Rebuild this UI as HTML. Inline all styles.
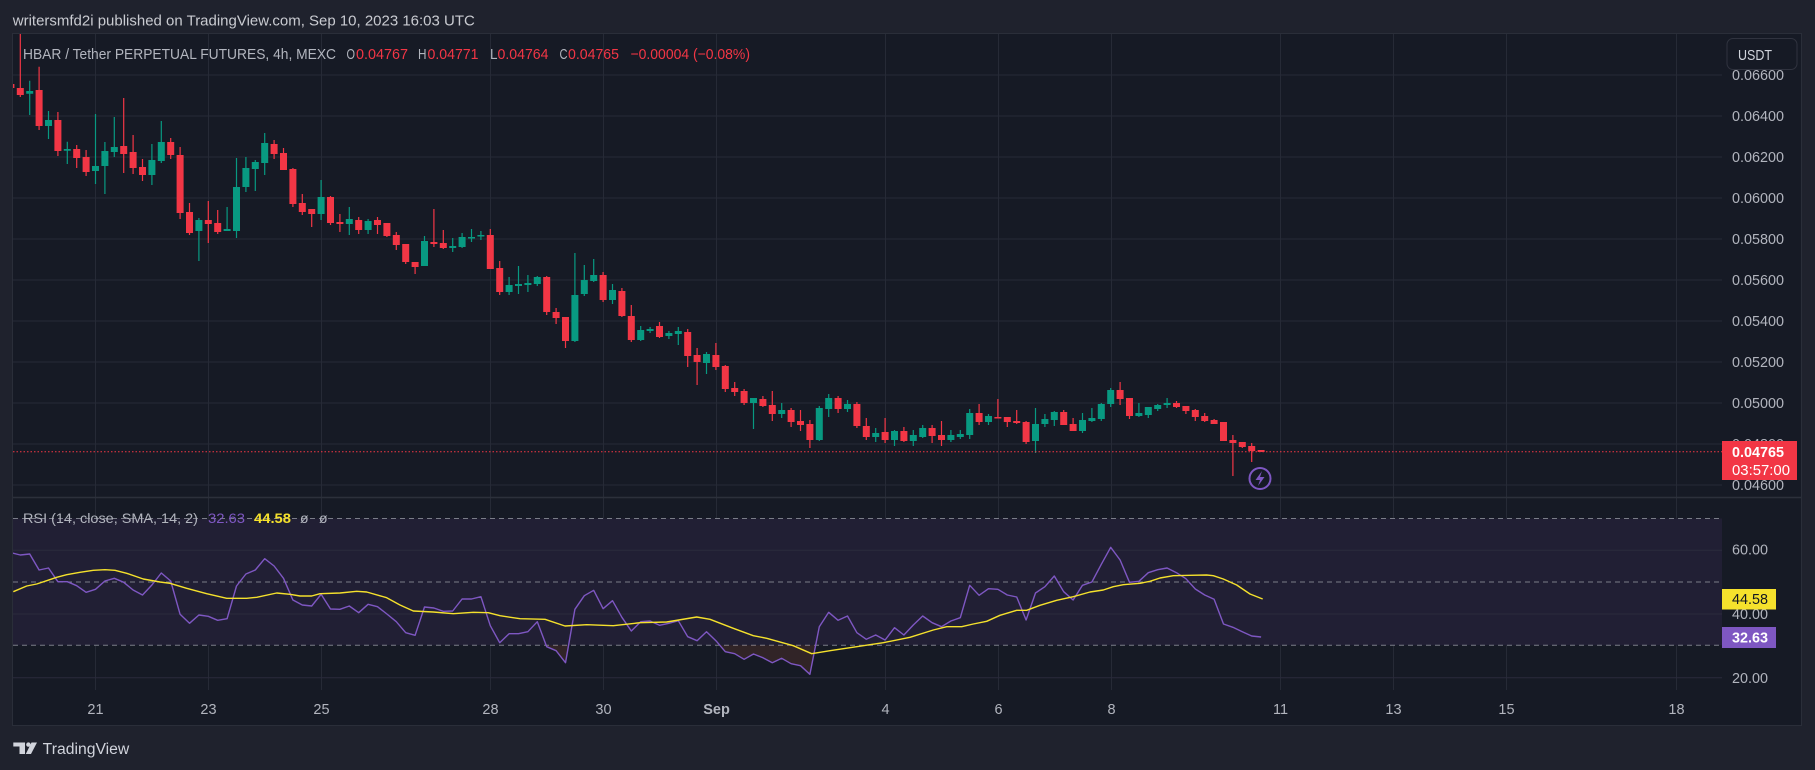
<!DOCTYPE html>
<html><head><meta charset="utf-8">
<style>
html,body{margin:0;padding:0;background:#1f222d;}
svg{display:block;font-family:"Liberation Sans",sans-serif;}
</style></head>
<body>
<svg width="1815" height="770" viewBox="0 0 1815 770" xmlns="http://www.w3.org/2000/svg">
<defs>
<clipPath id="cp"><rect x="13" y="34" width="1709" height="463"/></clipPath>
<clipPath id="cr"><rect x="13" y="498" width="1709" height="192"/></clipPath>
</defs>
<rect width="1815" height="770" fill="#1f222d"/>
<rect x="12.5" y="33.5" width="1789" height="692" fill="#161a25" stroke="#2a2e39" stroke-width="1"/>

<!-- title -->
<text x="12.8" y="25.5" font-size="15" fill="#c9cbd1" textLength="462" lengthAdjust="spacingAndGlyphs">writersmfd2i published on TradingView.com, Sep 10, 2023 16:03 UTC</text>

<!-- grid -->
<g stroke="#262a36" stroke-width="1">
<path d="M13 75H1722M13 116H1722M13 157H1722M13 198H1722M13 239H1722M13 280H1722M13 321H1722M13 362H1722M13 403H1722M13 444H1722M13 485H1722"/>
<path d="M95.5 34V690M208.5 34V690M321.5 34V690M490.5 34V690M603.5 34V690M716.5 34V690M885.5 34V690M998.5 34V690M1111.5 34V690M1280.5 34V690M1393.5 34V690M1506.5 34V690M1676.5 34V690"/>
</g>

<!-- RSI band -->
<rect x="13" y="518.5" width="1709" height="126.8" fill="#211f34"/>
<g stroke="#2a2b3c" stroke-width="1">
<path d="M13 550.3H1722M13 614H1722M13 677.7H1722"/>
</g>
<g stroke="#7a7d88" stroke-width="1" stroke-dasharray="5 4">
<path d="M13 518.5H1722M13 582H1722M13 645.3H1722"/>
</g>
<!-- pane separator -->
<path d="M13 497.5H1801" stroke="#2c303b" stroke-width="1.5"/>

<!-- candles -->
<g clip-path="url(#cp)">
<path fill="none" stroke="#f23645" stroke-width="1.2" d="M10.9 83V90M20.3 30V97M39.1 66.7V130M57.9 112V156M76.7 145V168M86.1 150V176M123.7 98V173M133.1 135V174M142.5 159V181M170.7 138V159M180.1 147V219M189.5 203V235M208.3 201V243M217.7 210V234M274.1 140V159M283.5 148V170M292.9 168V207M302.3 194V215M311.7 209V227M330.5 196V225M339.9 214V232M358.7 217V234M377.5 217V234M386.9 223V237M396.3 232V250M405.7 244V264M415.1 262V274M433.9 209V247M443.3 230V249M490.3 229V269M499.7 261V295M546.7 276V315M556.1 308V324M565.5 317V348M603.1 272V302M621.9 288V317M631.3 305V342M659.5 322V338M687.7 329V367M697.1 348V385M715.9 343V370M725.3 365V392M734.7 382V396M744.1 389V405M762.9 396V407M772.3 391V421M791.1 408V427M800.5 410V431M809.9 420V448M838.1 396V413M856.9 402V428M866.3 418V440M885.1 418V443M903.9 427V442M932.1 425V443M941.5 421V446M979.1 404V425M997.9 399V418M1007.3 417V427M1016.7 410V424M1026.1 421V444M1063.7 410V425M1073.1 418V431M1120.1 382V405M1129.5 398V419M1176.5 401V408M1185.9 406V414M1195.3 409V421M1204.7 413V422M1214.1 419V424M1223.5 422V441M1232.9 435V476M1242.3 442V448M1251.7 443V462M1261.1 450V452"/>
<path fill="#f23645" d="M7.4 84h7V88h-7zM16.8 88h7V95h-7zM35.6 90h7V126h-7zM54.4 120h7V151h-7zM73.2 149h7V158h-7zM82.6 157h7V172h-7zM120.2 146h7V154h-7zM129.6 152h7V168h-7zM139 167h7V175h-7zM167.2 142h7V155h-7zM176.6 155h7V213h-7zM186 212h7V233h-7zM204.8 220h7V224h-7zM214.2 223h7V232h-7zM270.6 144h7V154h-7zM280 153h7V170h-7zM289.4 169h7V204h-7zM298.8 203h7V212h-7zM308.2 209h7V214h-7zM327 197h7V223h-7zM336.4 222h7V224h-7zM355.2 220h7V230h-7zM374 220h7V225h-7zM383.4 223h7V236h-7zM392.8 235h7V245h-7zM402.2 244h7V262h-7zM411.6 262h7V267h-7zM430.4 242h7V244h-7zM439.8 243h7V248h-7zM486.8 235h7V269h-7zM496.2 268h7V292h-7zM543.2 277h7V312h-7zM552.6 312h7V318h-7zM562 317h7V341h-7zM599.6 275h7V300h-7zM618.4 291h7V316h-7zM627.8 316h7V340h-7zM656 326h7V337h-7zM684.2 332h7V356h-7zM693.6 355h7V362h-7zM712.4 355h7V367h-7zM721.8 366h7V389h-7zM731.2 388h7V392h-7zM740.6 391h7V403h-7zM759.4 399h7V406h-7zM768.8 405h7V414h-7zM787.6 410h7V422h-7zM797 421h7V425h-7zM806.4 424h7V440h-7zM834.6 398h7V409h-7zM853.4 404h7V426h-7zM862.8 426h7V437h-7zM881.6 432h7V440h-7zM900.4 431h7V441h-7zM928.6 428h7V436h-7zM938 435h7V440h-7zM975.6 413h7V422h-7zM994.4 417h7V418.5h-7zM1003.8 417h7V422h-7zM1013.2 421h7V423h-7zM1022.6 422h7V442h-7zM1060.2 412h7V425h-7zM1069.6 424h7V431h-7zM1116.6 390h7V399h-7zM1126 398h7V416h-7zM1173 403h7V407h-7zM1182.4 406h7V411h-7zM1191.8 410h7V417h-7zM1201.2 416h7V421h-7zM1210.6 420h7V424h-7zM1220 422h7V441h-7zM1229.4 440h7V443h-7zM1238.8 442h7V447h-7zM1248.2 446h7V451h-7zM1257.6 450h7V452h-7z"/>
<path fill="none" stroke="#089981" stroke-width="1.2" d="M29.7 80.7V115M48.5 111V139M67.3 141.7V164M95.5 114V184M104.9 142V194M114.3 117V157M151.9 144V185M161.3 121V163M198.9 218V261M227.1 207V230M236.5 158V238M245.9 157V192M255.3 160V191M264.7 133V175M321.1 180V220M349.3 207V235M368.1 219V234M424.5 236V266M452.7 238V252M462.1 233V248M471.5 229V242M480.9 231V240M509.1 277V295M518.5 266V294M527.9 275V292M537.3 276V286M574.9 253V342M584.3 265V296M593.7 259V282M612.5 284V304M640.7 326V341M650.1 327V333M668.9 331V339M678.3 327V345M706.5 352V374M753.5 398V429M781.7 403V418M819.3 406V441M828.7 394V417M847.5 400V412M875.7 428V442M894.5 430V446M913.3 430V446M922.7 425V438M950.9 430V442M960.3 430V439M969.7 409V439M988.5 414V425M1035.5 408V453M1044.9 414V427M1054.3 411V426M1082.5 413V433M1091.9 408V422M1101.3 403V421M1110.7 388V407M1138.9 403V417M1148.3 407V418M1157.7 404V411M1167.1 398V408"/>
<path fill="#089981" d="M26.2 91h7V93.7h-7zM45 120h7V126h-7zM63.8 149h7V150.7h-7zM92 166h7V171h-7zM101.4 151h7V166h-7zM110.8 147h7V152h-7zM148.4 160h7V175h-7zM157.8 142h7V161h-7zM195.4 220h7V231h-7zM223.6 229h7V231h-7zM233 187h7V231h-7zM242.4 168h7V187h-7zM251.8 162h7V169h-7zM261.2 143h7V163h-7zM317.6 197h7V214h-7zM345.8 219h7V224h-7zM364.6 221h7V230h-7zM421 241h7V266h-7zM449.2 246h7V248h-7zM458.6 237h7V247h-7zM468 237h7V238.5h-7zM477.4 235h7V236.5h-7zM505.6 285h7V292h-7zM515 284h7V286h-7zM524.4 283h7V285h-7zM533.8 277h7V284h-7zM571.4 295h7V341h-7zM580.8 280h7V294h-7zM590.2 275h7V281h-7zM609 290h7V300h-7zM637.2 330h7V340h-7zM646.6 329h7V331h-7zM665.4 333h7V336h-7zM674.8 331h7V334h-7zM703 354h7V363h-7zM750 398h7V403h-7zM778.2 410h7V414h-7zM815.8 408h7V440h-7zM825.2 398h7V409h-7zM844 404h7V409h-7zM872.2 433h7V437h-7zM891 431h7V440h-7zM909.8 435h7V441h-7zM919.2 428h7V437h-7zM947.4 435h7V440h-7zM956.8 434h7V437h-7zM966.2 413h7V435h-7zM985 416h7V422h-7zM1032 424h7V441h-7zM1041.4 419h7V424h-7zM1050.8 412h7V420h-7zM1079 420h7V431h-7zM1088.4 418h7V421h-7zM1097.8 404h7V419h-7zM1107.2 390h7V404h-7zM1135.4 413h7V416h-7zM1144.8 407h7V415h-7zM1154.2 405h7V409h-7zM1163.6 403h7V405h-7z"/>
</g>

<!-- current price line -->
<path d="M13 451.7H1722" stroke="#f23645" stroke-width="1" stroke-dasharray="1.5 2"/>

<!-- lightning icon -->
<circle cx="1260" cy="478.5" r="10.5" fill="#161a25" stroke="#7e57c2" stroke-width="2"/>
<path d="M1262 471L1255.5 480H1260L1258 486L1264.5 477H1260Z" fill="#7e57c2"/>

<!-- legend -->
<text y="59" font-size="15" fill="#b2b5be">
<tspan x="23" textLength="313" lengthAdjust="spacingAndGlyphs">HBAR / Tether PERPETUAL FUTURES, 4h, MEXC</tspan>
</text>
<text y="59" font-size="15" fill="#b2b5be">
<tspan x="346.5" textLength="8.5" lengthAdjust="spacingAndGlyphs">O</tspan>
<tspan x="418" textLength="8.5" lengthAdjust="spacingAndGlyphs">H</tspan>
<tspan x="490" textLength="7" lengthAdjust="spacingAndGlyphs">L</tspan>
<tspan x="559.5" textLength="8" lengthAdjust="spacingAndGlyphs">C</tspan>
</text>
<text y="59" font-size="15" fill="#f23645">
<tspan x="356" textLength="52" lengthAdjust="spacingAndGlyphs">0.04767</tspan>
<tspan x="427.5" textLength="51" lengthAdjust="spacingAndGlyphs">0.04771</tspan>
<tspan x="497.5" textLength="51" lengthAdjust="spacingAndGlyphs">0.04764</tspan>
<tspan x="568" textLength="51" lengthAdjust="spacingAndGlyphs">0.04765</tspan>
<tspan x="630.5" textLength="119.5" lengthAdjust="spacingAndGlyphs">−0.00004 (−0.08%)</tspan>
</text>

<!-- RSI under-30 fills -->
<g clip-path="url(#cr)">
<polygon points="546.2,645.3 546.7,646.7 556.1,650.7 565.5,662.7 568.6,645.3" fill="#d9603c" fill-opacity="0.14"/>
<polygon points="719.8,645.3 725.3,651.7 734.7,653.7 744.1,659.3 753.5,654 762.9,657.7 772.3,662.7 781.7,658.3 791.1,663.7 800.5,665.7 809.9,674.3 815.6,645.3" fill="#d9603c" fill-opacity="0.14"/>
<polyline fill="none" stroke="#7e57c2" stroke-width="1.4" stroke-linejoin="round" points="10.9,552.7 20.3,555 29.7,554 39.1,570 48.5,568 57.9,581.7 67.3,581.7 76.7,585.7 86.1,592.3 95.5,589.3 104.9,581 114.3,578.3 123.7,582.3 133.1,590 142.5,595 151.9,585 161.3,573 170.7,581 180.1,614.3 189.5,623.3 198.9,615 208.3,616.3 217.7,620.3 227.1,618.7 236.5,586 245.9,574 255.3,570 264.7,558.7 274.1,566 283.5,578.3 292.9,600 302.3,605 311.7,606 321.1,594.3 330.5,609 339.9,609.3 349.3,606 358.7,612.7 368.1,604.3 377.5,606.7 386.9,614 396.3,621.7 405.7,632.7 415.1,635.3 424.5,607 433.9,608 443.3,611.3 452.7,611 462.1,599 471.5,599 480.9,596.7 490.3,625.7 499.7,642.7 509.1,633.7 518.5,633.7 527.9,631.7 537.3,621.7 546.7,646.7 556.1,650.7 565.5,662.7 574.9,609.3 584.3,595.7 593.7,590.3 603.1,608.7 612.5,600.7 621.9,617.3 631.3,631 640.7,621.7 650.1,621 659.5,625.3 668.9,623.3 678.3,620.7 687.7,636.7 697.1,640.7 706.5,631.7 715.9,640.7 725.3,651.7 734.7,653.7 744.1,659.3 753.5,654 762.9,657.7 772.3,662.7 781.7,658.3 791.1,663.7 800.5,665.7 809.9,674.3 819.3,626.7 828.7,612.3 838.1,620.3 847.5,616 856.9,632.7 866.3,639.3 875.7,635 885.1,640 894.5,627.7 903.9,635 913.3,625 922.7,616 932.1,622.7 941.5,626.7 950.9,621 960.3,617.7 969.7,585.3 979.1,595.3 988.5,588.7 997.9,589.3 1007.3,595 1016.7,597 1026.1,620 1035.5,593 1044.9,586.7 1054.3,576 1063.7,591.7 1073.1,600 1082.5,585.3 1091.9,582 1101.3,564.3 1110.7,547.3 1120.1,560 1129.5,582.3 1138.9,581.3 1148.3,572.7 1157.7,569.7 1167.1,568 1176.5,572.7 1185.9,578.7 1195.3,589 1204.7,595 1214.1,599.3 1223.5,624 1232.9,627.3 1242.3,631.7 1251.7,636 1261.1,637"/>
<polyline fill="none" stroke="#f5e12c" stroke-width="1.4" stroke-linejoin="round" points="13.3,591.7 26.7,586 36.7,584 46.7,580.7 56.7,577.3 66.7,574.7 80,572.3 93.3,570.3 105,569.7 115,570.3 126.7,573.3 143.3,579 160,582 170,583.3 186.7,588.3 206.7,593.7 226.7,598.3 246.7,598.3 256.7,597.3 276.7,593 290,594.3 300,596 311.7,596 320,593.7 340,593 356.7,591.3 366.7,592 386.7,597.7 400,605 413.3,611 433.3,612 453.3,613.7 473.3,612.3 488.3,612.7 500,615.7 520,618.7 545,619.3 565,626 586.7,624.7 613.3,625.7 640,622.7 666.7,622 696.7,617 710,619.3 733.3,628.3 753.3,635.7 766.7,638.3 793.3,645.7 811.7,653.7 830,650.7 850,647.7 883.3,642.7 910,637.3 933.3,630 946.7,626.7 961.7,626.7 973.3,624 986.7,621.3 1000,615.3 1016.7,610.3 1026.7,610.3 1040,605.3 1056.7,600.3 1073.3,596.7 1090,592 1103.3,590 1113.3,586.7 1123.3,584.7 1140,583.3 1150,581.3 1160,578 1173.3,575.7 1190,575.3 1206.7,575 1213.3,575.7 1223.3,579 1236.7,585 1250,594 1262.7,599"/>
</g>

<!-- RSI legend -->
<text y="523" font-size="14">
<tspan x="23" fill="#b2b5be" textLength="175" lengthAdjust="spacingAndGlyphs">RSI (14, close, SMA, 14, 2)</tspan>
</text>
<text y="523" font-size="14"><tspan x="208" fill="#7e57c2" textLength="37" lengthAdjust="spacingAndGlyphs">32.63</tspan></text>
<text y="523" font-size="14" font-weight="bold"><tspan x="254" fill="#f5e12c" textLength="37" lengthAdjust="spacingAndGlyphs">44.58</tspan></text>
<text y="523" font-size="14" fill="#b2b5be"><tspan x="300">ø</tspan><tspan x="319">ø</tspan></text>

<!-- price axis labels -->
<g font-size="14.5" fill="#b2b5be">
<text x="1732" y="80" textLength="52" lengthAdjust="spacingAndGlyphs">0.06600</text>
<text x="1732" y="121" textLength="52" lengthAdjust="spacingAndGlyphs">0.06400</text>
<text x="1732" y="162" textLength="52" lengthAdjust="spacingAndGlyphs">0.06200</text>
<text x="1732" y="203" textLength="52" lengthAdjust="spacingAndGlyphs">0.06000</text>
<text x="1732" y="244" textLength="52" lengthAdjust="spacingAndGlyphs">0.05800</text>
<text x="1732" y="285" textLength="52" lengthAdjust="spacingAndGlyphs">0.05600</text>
<text x="1732" y="326" textLength="52" lengthAdjust="spacingAndGlyphs">0.05400</text>
<text x="1732" y="367" textLength="52" lengthAdjust="spacingAndGlyphs">0.05200</text>
<text x="1732" y="408" textLength="52" lengthAdjust="spacingAndGlyphs">0.05000</text>
<text x="1732" y="449" textLength="52" lengthAdjust="spacingAndGlyphs">0.04800</text>
<text x="1732" y="490" textLength="52" lengthAdjust="spacingAndGlyphs">0.04600</text>
<text x="1732" y="554.5" textLength="36" lengthAdjust="spacingAndGlyphs">60.00</text>
<text x="1732" y="619" textLength="36" lengthAdjust="spacingAndGlyphs">40.00</text>
<text x="1732" y="683" textLength="36" lengthAdjust="spacingAndGlyphs">20.00</text>
</g>

<!-- USDT button -->
<rect x="1727" y="38.5" width="70" height="31" rx="6" fill="#161a25" stroke="#30333f" stroke-width="1"/>
<text x="1738" y="60" font-size="14.5" fill="#d1d4dc" textLength="34" lengthAdjust="spacingAndGlyphs">USDT</text>

<!-- current price label -->
<rect x="1722" y="441" width="75" height="39" fill="#f23645"/>
<text x="1732" y="457" font-size="14.5" font-weight="bold" fill="#ffffff" textLength="52" lengthAdjust="spacingAndGlyphs">0.04765</text>
<text x="1732" y="475" font-size="14.5" fill="#ffffff" textLength="58" lengthAdjust="spacingAndGlyphs">03:57:00</text>

<!-- RSI labels -->
<rect x="1722" y="589" width="54" height="20.5" fill="#f5e12c"/>
<text x="1732" y="604" font-size="14.5" fill="#131722" textLength="36" lengthAdjust="spacingAndGlyphs">44.58</text>
<rect x="1722" y="627" width="54" height="21" fill="#7e57c2"/>
<text x="1732" y="642.5" font-size="14.5" font-weight="bold" fill="#ffffff" textLength="36" lengthAdjust="spacingAndGlyphs">32.63</text>

<!-- time axis -->
<g font-size="14.5" fill="#b2b5be" text-anchor="middle">
<text x="95.5" y="714">21</text>
<text x="208.5" y="714">23</text>
<text x="321.5" y="714">25</text>
<text x="490.5" y="714">28</text>
<text x="603.5" y="714">30</text>
<text x="716.5" y="714" font-weight="bold">Sep</text>
<text x="885.5" y="714">4</text>
<text x="998.5" y="714">6</text>
<text x="1111.5" y="714">8</text>
<text x="1280.5" y="714">11</text>
<text x="1393.5" y="714">13</text>
<text x="1506.5" y="714">15</text>
<text x="1676.5" y="714">18</text>
</g>

<!-- TradingView logo -->
<g fill="#d1d4dc">
<rect x="13.3" y="742.5" width="11.7" height="4"/>
<rect x="19.5" y="742.5" width="5.5" height="11.5"/>
<circle cx="28.4" cy="744.6" r="2.2"/>
<polygon points="31.5,742.5 37,742.5 31,754 25.8,754"/>
</g>
<text x="42.7" y="754" font-size="15.5" fill="#d1d4dc" textLength="86.6" lengthAdjust="spacingAndGlyphs">TradingView</text>
</svg>
</body></html>
